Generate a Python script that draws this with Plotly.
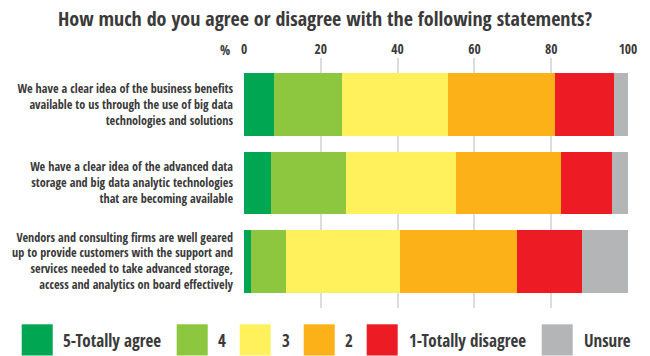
import plotly.graph_objects as go

statements = [
    "We have a clear idea of the business benefits<br>available to us through the use of big data<br>technologies and solutions",
    "We have a clear idea of the advanced data<br>storage and big data analytic technologies<br>that are becoming available",
    "Vendors and consulting firms are well geared<br>up to provide customers with the support and<br>services needed to take advanced storage,<br>access and analytics on board effectively",
]
series_names = ["5-Totally agree", "4", "3", "2", "1-Totally disagree", "Unsure"]
totally_agree = [7.7, 7.0, 1.8]
agree = [17.7, 19.5, 9.1]
neutral = [27.7, 28.6, 29.8]
disagree = [28.0, 27.5, 30.5]
totally_disagree = [15.3, 13.2, 16.9]
unsure = [3.6, 4.2, 11.9]
tick_values = [0, 20, 40, 60, 80, 100]
colors = ["#00A651", "#8DC63F", "#FFF15C", "#FBB117", "#ED1C24", "#B4B5B7"]

series = [totally_agree, agree, neutral, disagree, totally_disagree, unsure]

FONT = "Open Sans Condensed, Roboto Condensed, sans-serif"
TXT = "#3a3a3a"

fig = go.Figure()
for name, vals, col in zip(series_names, series, colors):
    fig.add_trace(go.Bar(
        y=statements, x=vals, name=name, orientation="h",
        marker=dict(color=col, line=dict(width=0)), width=0.805,
        showlegend=False, hoverinfo="x+name",
    ))

W, H = 650, 356
L, R, T, B = 244.3, 628.3, 58, 308


def px_x(px):
    return (px - L) / (R - L)


def px_y(py):
    return (B - py) / (B - T)


shapes = []
annotations = []
# custom legend
sq_left = [22, 177, 240, 304, 367, 542]
txt_left = [61, 216, 280, 343, 407, 582]
for i, (name, col) in enumerate(zip(series_names, colors)):
    shapes.append(dict(type="rect", xref="paper", yref="paper",
                       x0=px_x(sq_left[i]), x1=px_x(sq_left[i] + 31),
                       y0=px_y(355.5), y1=px_y(324.3),
                       fillcolor=col, line=dict(width=0), layer="above"))
    annotations.append(dict(text="<b>%s</b>" % name, xref="paper", yref="paper",
                            x=px_x(txt_left[i]), y=px_y(340.5), xanchor="left", yanchor="middle",
                            showarrow=False, font=dict(size=17, color=TXT, family=FONT)))

annotations.append(dict(text="<b>%</b>", xref="paper", yref="paper",
                        x=px_x(232), y=px_y(50), xanchor="right", yanchor="middle",
                        showarrow=False, font=dict(size=13.5, color=TXT, family=FONT)))

fig.update_layout(
    width=W, height=H,
    margin=dict(l=L, r=W - R, t=T, b=H - B, pad=0, autoexpand=False),
    barmode="stack",
    plot_bgcolor="white", paper_bgcolor="white",
    title=dict(text="<b>How much do you agree or disagree with the following statements?</b>",
               x=0.5, xanchor="center", xref="container", y=1 - 19 / H, yanchor="middle",
               font=dict(size=20, color=TXT, family=FONT)),
    xaxis=dict(range=[0, 100], side="top", tickvals=tick_values,
               ticktext=["<b>%d</b>" % v for v in tick_values],
               showgrid=True, gridcolor="#DCDCDC", gridwidth=1.5, zeroline=False,
               tickfont=dict(size=13.5, color=TXT, family=FONT), ticks="", showline=False,
               automargin=False, fixedrange=True),
    yaxis=dict(range=[2.6, -0.6], showgrid=False, ticks="", ticklabelstandoff=10,
               tickfont=dict(size=12.2, color=TXT, family=FONT), automargin=False,
               tickvals=statements, ticktext=["<b>%s</b>" % s for s in statements],
               categoryorder="array", categoryarray=statements, fixedrange=True),
    shapes=shapes,
    annotations=annotations,
    showlegend=False,
)
fig.write_html("out.html", config={"displayModeBar": False},
               post_script="document.body.style.margin='0';document.body.style.overflow='hidden';")
